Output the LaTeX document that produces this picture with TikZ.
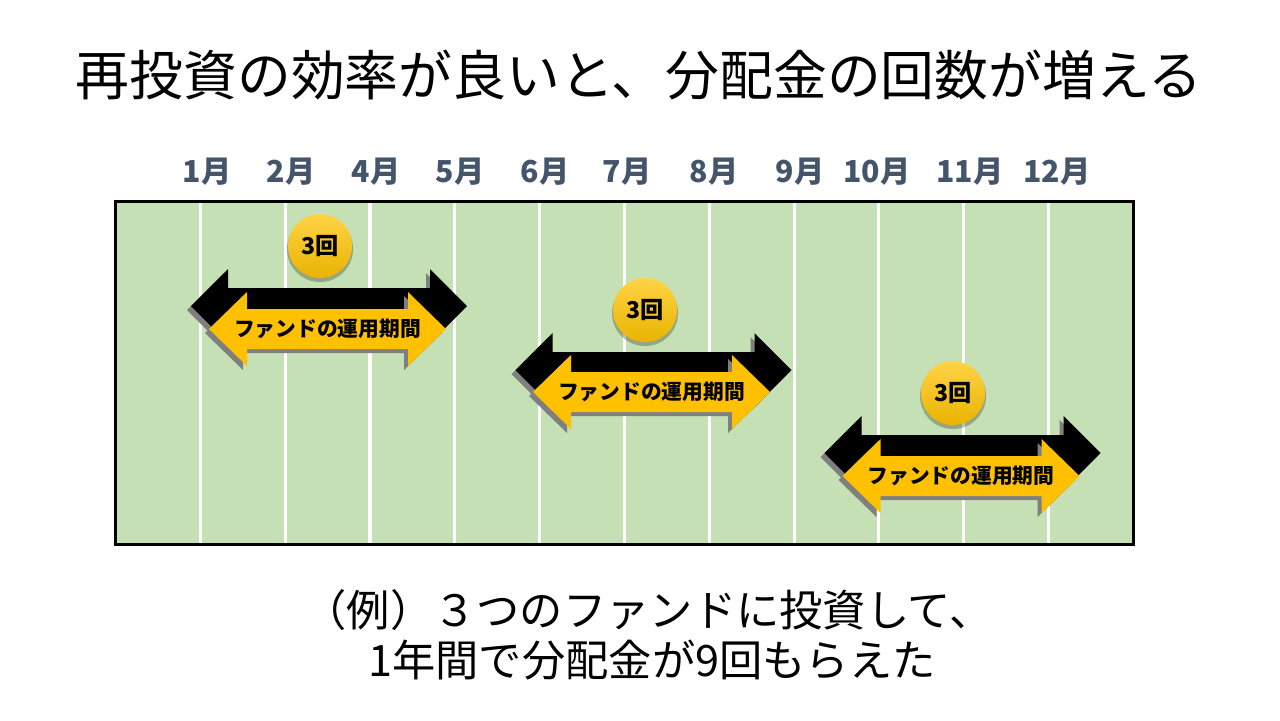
\documentclass[tikz,border=0pt]{standalone}
\usepackage{fontspec}
\newfontfamily\jp{Noto Sans CJK JP}
\usetikzlibrary{shadings}
\definecolor{bggreen}{HTML}{C5E0B4}
\definecolor{arrowyellow}{HTML}{FFC000}
\definecolor{monthcol}{HTML}{44546A}
\definecolor{shadowgray}{HTML}{7F7F7F}
\definecolor{coinTop}{HTML}{FFD445}
\definecolor{coinBot}{HTML}{E9B300}
\tikzset{
  titletext/.style={font=\jp\fontsize{15.3}{18}\selectfont, text=black, inner sep=0pt},
  monthlabel/.style={font=\jp\bfseries\fontsize{8.6}{10}\selectfont, text=monthcol, inner sep=0pt},
  fundtext/.style={font=\jp\bfseries\fontsize{5.9}{7}\selectfont, text=black, inner sep=0pt},
  coin/.style={circle, minimum size=0.64cm, inner sep=0pt, top color=coinTop, bottom color=coinBot, font=\jp\bfseries\fontsize{6.6}{8}\selectfont},
  coinshadow/.style={circle, minimum size=0.66cm, inner sep=0pt, fill=black, opacity=0.25},
  notetext/.style={font=\jp\fontsize{12.3}{14}\selectfont, text=black, inner sep=0pt, align=center},
  gridline/.style={white, line width=0.03cm},
  frame/.style={black, line width=0.03cm},
  blackarrow/.style={fill=black},
  yellowarrow/.style={fill=arrowyellow},
  arrowshadow/.style={fill=shadowgray},
}
% double arrow path: center x, center y, half length, head length, head half height, shaft half height
\newcommand{\DArrowPath}[6]{%
  ({#1-#3},{#2}) -- ({#1-#3+#4},{#2-#5}) -- ({#1-#3+#4},{#2-#6}) -- ({#1+#3-#4},{#2-#6}) --
  ({#1+#3-#4},{#2-#5}) -- ({#1+#3},{#2}) -- ({#1+#3-#4},{#2+#5}) -- ({#1+#3-#4},{#2+#6}) --
  ({#1-#3+#4},{#2+#6}) -- ({#1-#3+#4},{#2+#5}) -- cycle}
\newcommand{\FundPair}[7]{% name, black cx, black cy, yellow cx, yellow cy, coin cx, coin cy
  \fill[arrowshadow] \DArrowPath{#2-4}{#3+4}{138}{37}{37}{18};
  \fill[blackarrow] \DArrowPath{#2}{#3}{138}{37}{37}{18};
  \fill[arrowshadow] \DArrowPath{#4-4}{#5+4}{118.5}{38}{37}{20};
  \fill[yellowarrow] \DArrowPath{#4}{#5}{118.5}{38}{37}{20};
  \node[fundtext] (#1text) at (#4,#5) {ファンドの運用期間};
  \node[coinshadow] (#1coinshadow) at (#6,#7+3) {};
  \node[coin] (#1coin) at (#6,#7) {3回};
}
\begin{document}
\begin{tikzpicture}[x=0.01cm,y=-0.01cm]
\useasboundingbox (0,0) rectangle (1280,720);
\fill[white] (0,0) rectangle (1280,720);

\node[titletext] (title) at (639,75) {再投資の効率が良いと、分配金の回数が増える};

% month labels
\node[monthlabel] (m1) at (207,172) {1月};
\node[monthlabel] (m2) at (291,172) {2月};
\node[monthlabel] (m4) at (376,172) {4月};
\node[monthlabel] (m5) at (460,172) {5月};
\node[monthlabel] (m6) at (545,172) {6月};
\node[monthlabel] (m7) at (627,172) {7月};
\node[monthlabel] (m8) at (714,172) {8月};
\node[monthlabel] (m9) at (800,172) {9月};
\node[monthlabel] (m10) at (877,172) {10月};
\node[monthlabel] (m11) at (970,172) {11月};
\node[monthlabel] (m12) at (1057,172) {12月};

% board
\fill[bggreen] (115.5,201.5) rectangle (1133.5,544.5);
\foreach \i in {1,...,11} {
  \draw[gridline] ({115.5+84.83*\i},203) -- ({115.5+84.83*\i},543);
}
\draw[frame] (115.5,201.5) rectangle (1133.5,544.5);

% fund periods
\FundPair{a}{329}{306}{327.5}{329}{320}{246}
\FundPair{b}{653.5}{370}{651.5}{392}{645}{310}
\FundPair{c}{962.5}{453}{961}{476}{953}{393}

% note
\node[notetext] (note1) at (648,610) {（例）３つのファンドに投資して、};
\node[notetext] (note2) at (652,660) {1年間で分配金が9回もらえた};
\end{tikzpicture}
\end{document}
